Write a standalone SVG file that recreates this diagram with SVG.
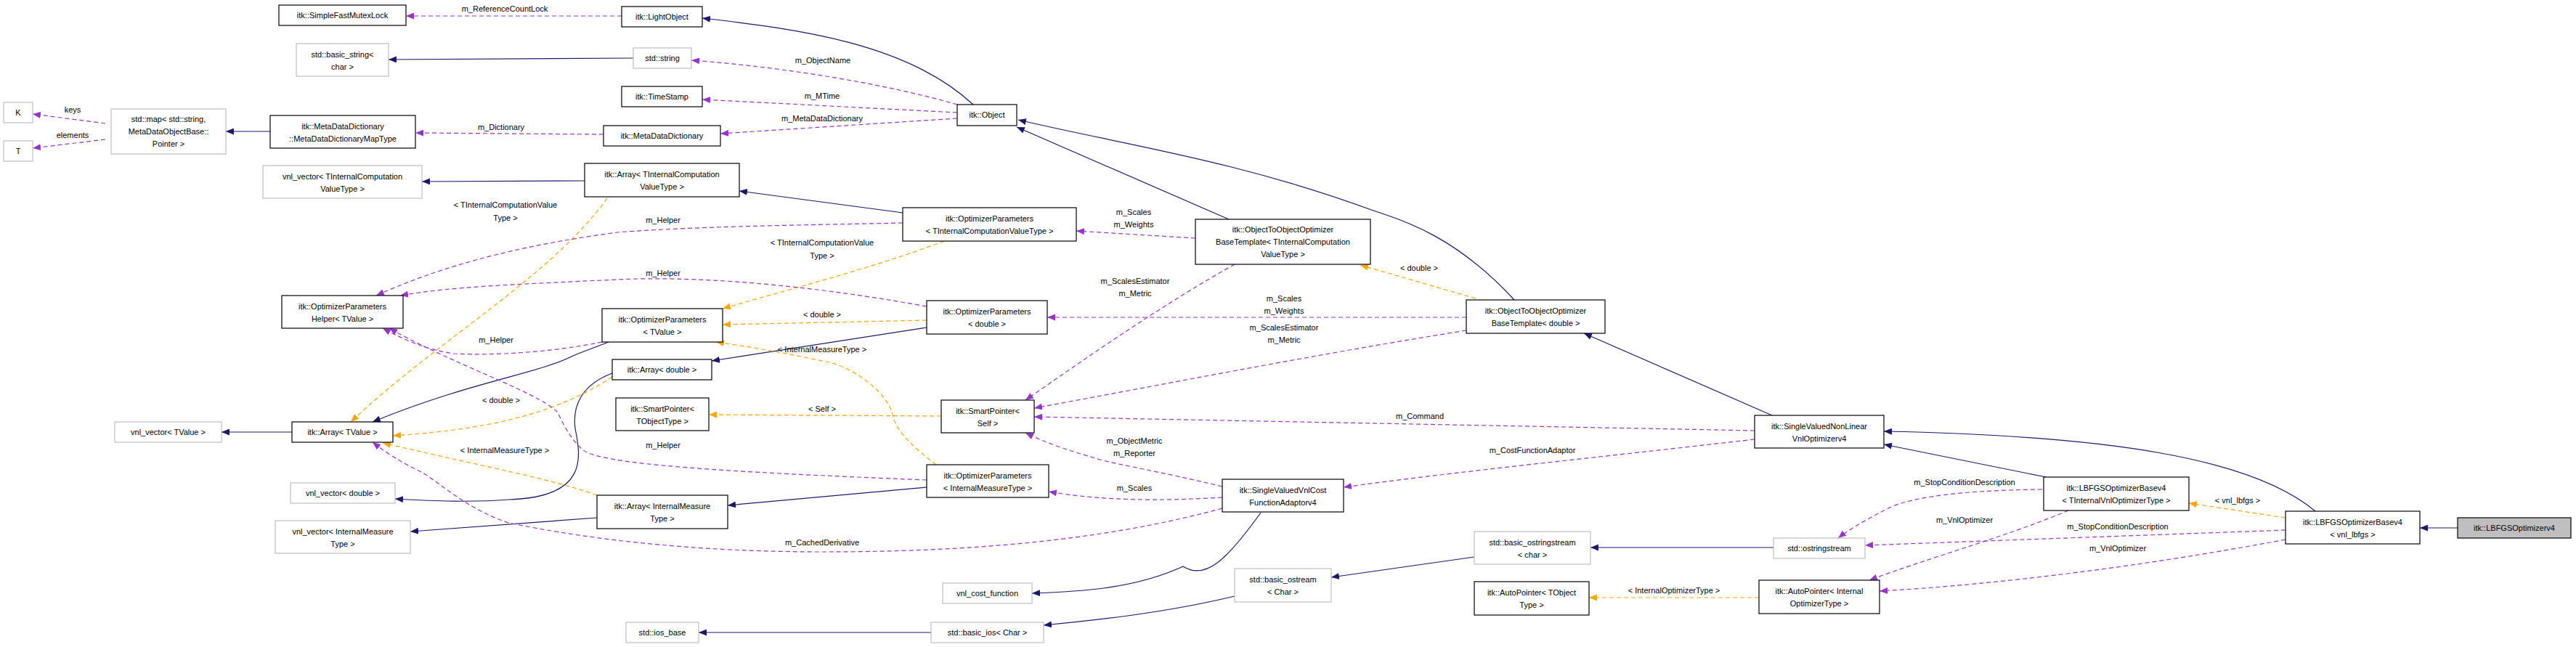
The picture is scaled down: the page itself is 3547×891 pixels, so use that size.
<svg xmlns="http://www.w3.org/2000/svg" width="3547" height="891" viewBox="0 0 3547 891">
<style>
text{font-family:"Liberation Sans",Arial,sans-serif;font-size:11px;fill:#000;text-anchor:middle}
.n rect{fill:#fff;stroke:#000;stroke-width:1.2}
.g rect{fill:#fff;stroke:#bfbfbf;stroke-width:1.2}
.h rect{fill:#bfbfbf;stroke:#000;stroke-width:1.2}
.i{fill:none;stroke:#191970;stroke-width:1.2;marker-end:url(#ai)}
.u{fill:none;stroke:#9a32cd;stroke-width:1.2;stroke-dasharray:6,4;marker-end:url(#au)}
.t{fill:none;stroke:#ffa500;stroke-width:1.2;stroke-dasharray:6,4;marker-end:url(#at)}
</style>
<defs>
<marker id="ai" markerUnits="userSpaceOnUse" markerWidth="11" markerHeight="9" refX="11" refY="4.5" orient="auto"><path d="M0,0 L11,4.5 L0,9 z" fill="#191970"/></marker>
<marker id="au" markerUnits="userSpaceOnUse" markerWidth="11" markerHeight="9" refX="11" refY="4.5" orient="auto"><path d="M0,0 L11,4.5 L0,9 z" fill="#9a32cd"/></marker>
<marker id="at" markerUnits="userSpaceOnUse" markerWidth="11" markerHeight="9" refX="11" refY="4.5" orient="auto"><path d="M0,0 L11,4.5 L0,9 z" fill="#ffa500"/></marker>
</defs>
<rect width="3547" height="891" fill="#fff"/>
<g id="connectors">
<path class="i" d="M1340,144 C1250,60 1100,40 967,25"/>
<path class="i" d="M872,80 L535,82"/>
<path class="i" d="M372,181 L311,181"/>
<path class="i" d="M805,249 L581,250"/>
<path class="i" d="M1243,293 L1018,263"/>
<path class="i" d="M1692,302 L1400,175"/>
<path class="i" d="M2085,413 C2000,320 1920,300 1891,290 C1700,220 1550,200 1402,165"/>
<path class="i" d="M2440,572 L2181,459"/>
<path class="i" d="M838,471 C815,480 800,485 789,490 C740,515 650,525 513,581"/>
<path class="i" d="M402,595 L305,595"/>
<path class="i" d="M1276,451 L980,497"/>
<path class="i" d="M843,514 C800,530 788,560 792,590 C800,630 810,685 700,688 C650,692 600,690 544,687"/>
<path class="i" d="M1276,671 L1002,696"/>
<path class="i" d="M822,713 L565,732"/>
<path class="i" d="M1736,706 C1690,770 1660,800 1629,780 C1560,812 1480,815 1421,817"/>
<path class="i" d="M1700,821 C1600,845 1500,855 1437,861"/>
<path class="i" d="M1283,871 L962,871"/>
<path class="i" d="M2442,754 L2190,754"/>
<path class="i" d="M2030,767 L1833,795"/>
<path class="i" d="M2817,657 L2594,612"/>
<path class="i" d="M3188,704 C3100,630 2900,600 2594,594"/>
<path class="i" d="M3384,727 L3332,727"/>
<path class="t" d="M836,273 C760,380 600,470 483,581"/>
<path class="t" d="M1300,332 C1200,370 1080,400 995,425"/>
<path class="t" d="M1276,441 L995,447"/>
<path class="t" d="M1289,640 C1250,610 1232,590 1229,570 C1220,540 1180,510 1146,500 C1100,490 1050,480 986,471"/>
<path class="t" d="M843,519 C780,560 700,590 541,600"/>
<path class="t" d="M822,682 C760,660 700,650 527,610"/>
<path class="t" d="M1296,573 L976,571"/>
<path class="t" d="M2032,411 L1873,365"/>
<path class="t" d="M3147,713 L3014,693"/>
<path class="t" d="M2422,823 L2188,823"/>
<path class="u" d="M856,22 L559,22"/>
<path class="u" d="M1318,144 C1200,110 1050,90 952,83"/>
<path class="u" d="M1318,155 L967,137"/>
<path class="u" d="M1318,163 L992,184"/>
<path class="u" d="M831,185 L572,183"/>
<path class="u" d="M145,170 L45,157"/>
<path class="u" d="M145,192 L45,204"/>
<path class="u" d="M1243,307 C1100,310 950,312 850,320 C700,340 600,370 518,407"/>
<path class="u" d="M1276,422 C1100,390 950,380 850,385 C700,392 620,395 551,407"/>
<path class="u" d="M829,471 C760,485 680,490 625,487 C590,482 560,470 527,452"/>
<path class="u" d="M1276,661 C1000,650 830,640 803,620 C780,600 770,570 767,567 C740,540 620,500 536,452"/>
<path class="u" d="M1683,700 C1500,750 1300,760 1132,760 C900,760 750,730 700,720 C640,700 600,660 580,650 C560,640 540,630 513,609"/>
<path class="u" d="M1646,328 L1482,318"/>
<path class="u" d="M1700,364 C1600,420 1500,490 1412,551"/>
<path class="u" d="M2019,437 L1442,437"/>
<path class="u" d="M2019,455 C1800,490 1600,530 1424,562"/>
<path class="u" d="M2416,593 L1424,574"/>
<path class="u" d="M2416,605 C2200,630 2000,650 1850,671"/>
<path class="u" d="M1683,670 C1600,650 1540,640 1515,633 C1470,620 1440,610 1412,596"/>
<path class="u" d="M1683,685 C1600,690 1520,690 1444,677"/>
<path class="u" d="M2812,674 C2700,675 2630,685 2600,700 C2570,715 2545,730 2531,741"/>
<path class="u" d="M2848,703 C2760,740 2650,770 2574,799"/>
<path class="u" d="M3147,730 L2568,751"/>
<path class="u" d="M3147,743 C2950,780 2750,805 2588,814"/>
</g>
<g id="labels">
<text x="695" y="16">m_ReferenceCountLock</text>
<text x="1133" y="87">m_ObjectName</text>
<text x="1132" y="136">m_MTime</text>
<text x="1132" y="167">m_MetaDataDictionary</text>
<text x="690" y="179">m_Dictionary</text>
<text x="100" y="155">keys</text>
<text x="100" y="190">elements</text>
<text x="696" y="286">&lt; TInternalComputationValue</text>
<text x="696" y="304">Type &gt;</text>
<text x="913" y="307">m_Helper</text>
<text x="1132" y="338">&lt; TInternalComputationValue</text>
<text x="1132" y="356">Type &gt;</text>
<text x="913" y="380">m_Helper</text>
<text x="1132" y="437">&lt; double &gt;</text>
<text x="683" y="472">m_Helper</text>
<text x="1132" y="485">&lt; InternalMeasureType &gt;</text>
<text x="690" y="555">&lt; double &gt;</text>
<text x="1132" y="567">&lt; Self &gt;</text>
<text x="913" y="617">m_Helper</text>
<text x="695" y="624">&lt; InternalMeasureType &gt;</text>
<text x="1132" y="751">m_CachedDerivative</text>
<text x="1561" y="296">m_Scales</text>
<text x="1561" y="313">m_Weights</text>
<text x="1563" y="391">m_ScalesEstimator</text>
<text x="1563" y="408">m_Metric</text>
<text x="1954" y="373">&lt; double &gt;</text>
<text x="1768" y="415">m_Scales</text>
<text x="1768" y="432">m_Weights</text>
<text x="1768" y="455">m_ScalesEstimator</text>
<text x="1768" y="472">m_Metric</text>
<text x="1955" y="577">m_Command</text>
<text x="2110" y="624">m_CostFunctionAdaptor</text>
<text x="1562" y="611">m_ObjectMetric</text>
<text x="1562" y="628">m_Reporter</text>
<text x="1562" y="676">m_Scales</text>
<text x="2705" y="668">m_StopConditionDescription</text>
<text x="2705" y="720">m_VnlOptimizer</text>
<text x="3081" y="693">&lt; vnl_lbfgs &gt;</text>
<text x="2916" y="729">m_StopConditionDescription</text>
<text x="2916" y="759">m_VnlOptimizer</text>
<text x="2305" y="817">&lt; InternalOptimizerType &gt;</text>
</g>
<g id="SFML" class="n"><rect x="384" y="7" width="175" height="28"/><text x="471.5" y="25">itk::SimpleFastMutexLock</text></g>
<g id="basic_string" class="g"><rect x="408" y="60" width="127" height="45"/><text x="471.5" y="79">std::basic_string&lt;</text><text x="471.5" y="96">char &gt;</text></g>
<g id="K" class="g"><rect x="5" y="141" width="40" height="28"/><text x="25" y="159">K</text></g>
<g id="T" class="g"><rect x="5" y="194" width="40" height="28"/><text x="25" y="212">T</text></g>
<g id="map" class="g"><rect x="153" y="150" width="158" height="62"/><text x="232" y="168">std::map&lt; std::string,</text><text x="232" y="185">MetaDataObjectBase::</text><text x="232" y="202">Pointer &gt;</text></g>
<g id="MDDMapType" class="n"><rect x="372" y="159" width="200" height="45"/><text x="472" y="178">itk::MetaDataDictionary</text><text x="472" y="195">::MetaDataDictionaryMapType</text></g>
<g id="vnlTICVT" class="g"><rect x="362" y="228" width="219" height="45"/><text x="471.5" y="247">vnl_vector&lt; TInternalComputation</text><text x="471.5" y="264">ValueType &gt;</text></g>
<g id="Helper" class="n"><rect x="388" y="407" width="167" height="45"/><text x="471.5" y="426">itk::OptimizerParameters</text><text x="471.5" y="443">Helper&lt; TValue &gt;</text></g>
<g id="vnlTValue" class="g"><rect x="158" y="581" width="147" height="28"/><text x="231.5" y="599">vnl_vector&lt; TValue &gt;</text></g>
<g id="ArrayTValue" class="n"><rect x="402" y="581" width="139" height="28"/><text x="471.5" y="599">itk::Array&lt; TValue &gt;</text></g>
<g id="vnlDouble" class="g"><rect x="400" y="665" width="144" height="28"/><text x="472" y="683">vnl_vector&lt; double &gt;</text></g>
<g id="vnlIMT" class="g"><rect x="379" y="717" width="186" height="45"/><text x="472" y="736">vnl_vector&lt; InternalMeasure</text><text x="472" y="753">Type &gt;</text></g>
<g id="LightObject" class="n"><rect x="856" y="9" width="111" height="28"/><text x="911.5" y="27">itk::LightObject</text></g>
<g id="stdstring" class="g"><rect x="872" y="66" width="80" height="28"/><text x="912" y="84">std::string</text></g>
<g id="TimeStamp" class="n"><rect x="856" y="119" width="111" height="28"/><text x="911.5" y="137">itk::TimeStamp</text></g>
<g id="MDD" class="n"><rect x="831" y="173" width="161" height="28"/><text x="911.5" y="191">itk::MetaDataDictionary</text></g>
<g id="ArrayTICVT" class="n"><rect x="805" y="225" width="213" height="46"/><text x="911.5" y="244">itk::Array&lt; TInternalComputation</text><text x="911.5" y="261">ValueType &gt;</text></g>
<g id="OPTValue" class="n"><rect x="829" y="425" width="166" height="46"/><text x="912" y="444">itk::OptimizerParameters</text><text x="912" y="461">&lt; TValue &gt;</text></g>
<g id="ArrayDouble" class="n"><rect x="843" y="495" width="137" height="28"/><text x="911.5" y="513">itk::Array&lt; double &gt;</text></g>
<g id="SPTObj" class="n"><rect x="848" y="548" width="128" height="45"/><text x="912" y="567">itk::SmartPointer&lt;</text><text x="912" y="584">TObjectType &gt;</text></g>
<g id="ArrayIMT" class="n"><rect x="822" y="682" width="180" height="46"/><text x="912" y="701">itk::Array&lt; InternalMeasure</text><text x="912" y="718">Type &gt;</text></g>
<g id="iosbase" class="g"><rect x="862" y="857" width="100" height="28"/><text x="912" y="875">std::ios_base</text></g>
<g id="Object" class="n"><rect x="1318" y="144" width="82" height="29"/><text x="1359" y="162">itk::Object</text></g>
<g id="OPTICVT" class="n"><rect x="1243" y="286" width="239" height="46"/><text x="1362.5" y="305">itk::OptimizerParameters</text><text x="1362.5" y="322">&lt; TInternalComputationValueType &gt;</text></g>
<g id="OPDouble" class="n"><rect x="1276" y="414" width="166" height="46"/><text x="1359" y="433">itk::OptimizerParameters</text><text x="1359" y="450">&lt; double &gt;</text></g>
<g id="SPSelf" class="n"><rect x="1296" y="551" width="128" height="45"/><text x="1360" y="570">itk::SmartPointer&lt;</text><text x="1360" y="587">Self &gt;</text></g>
<g id="OPIMT" class="n"><rect x="1276" y="640" width="168" height="45"/><text x="1360" y="659">itk::OptimizerParameters</text><text x="1360" y="676">&lt; InternalMeasureType &gt;</text></g>
<g id="vnlcost" class="g"><rect x="1298" y="803" width="123" height="28"/><text x="1359.5" y="821">vnl_cost_function</text></g>
<g id="basicios" class="g"><rect x="1282" y="857" width="155" height="28"/><text x="1359.5" y="875">std::basic_ios&lt; Char &gt;</text></g>
<g id="OTOTICVT" class="n"><rect x="1646" y="302" width="241" height="62"/><text x="1766.5" y="320">itk::ObjectToObjectOptimizer</text><text x="1766.5" y="337">BaseTemplate&lt; TInternalComputation</text><text x="1766.5" y="354">ValueType &gt;</text></g>
<g id="OTODouble" class="n"><rect x="2019" y="413" width="191" height="46"/><text x="2114.5" y="432">itk::ObjectToObjectOptimizer</text><text x="2114.5" y="449">BaseTemplate&lt; double &gt;</text></g>
<g id="Adaptor" class="n"><rect x="1683" y="660" width="167" height="45"/><text x="1766.5" y="679">itk::SingleValuedVnlCost</text><text x="1766.5" y="696">FunctionAdaptorv4</text></g>
<g id="basicostream" class="g"><rect x="1700" y="783" width="133" height="46"/><text x="1766.5" y="802">std::basic_ostream</text><text x="1766.5" y="819">&lt; Char &gt;</text></g>
<g id="basicostringstream" class="g"><rect x="2030" y="732" width="160" height="45"/><text x="2110" y="751">std::basic_ostringstream</text><text x="2110" y="768">&lt; char &gt;</text></g>
<g id="AutoTObj" class="n"><rect x="2030" y="801" width="158" height="46"/><text x="2109" y="820">itk::AutoPointer&lt; TObject</text><text x="2109" y="837">Type &gt;</text></g>
<g id="SVNL" class="n"><rect x="2416" y="572" width="178" height="45"/><text x="2505" y="591">itk::SingleValuedNonLinear</text><text x="2505" y="608">VnlOptimizerv4</text></g>
<g id="LBFGSTI" class="n"><rect x="2814" y="657" width="200" height="46"/><text x="2914" y="676">itk::LBFGSOptimizerBasev4</text><text x="2914" y="693">&lt; TInternalVnlOptimizerType &gt;</text></g>
<g id="ostringstream" class="g"><rect x="2442" y="741" width="126" height="28"/><text x="2505" y="759">std::ostringstream</text></g>
<g id="AutoInt" class="n"><rect x="2422" y="799" width="166" height="46"/><text x="2505" y="818">itk::AutoPointer&lt; Internal</text><text x="2505" y="835">OptimizerType &gt;</text></g>
<g id="LBFGSvnl" class="n"><rect x="3147" y="704" width="185" height="45"/><text x="3239.5" y="723">itk::LBFGSOptimizerBasev4</text><text x="3239.5" y="740">&lt; vnl_lbfgs &gt;</text></g>
<g id="LBFGSv4" class="h"><rect x="3384" y="713" width="156" height="28"/><text x="3462" y="731">itk::LBFGSOptimizerv4</text></g>
</svg>
